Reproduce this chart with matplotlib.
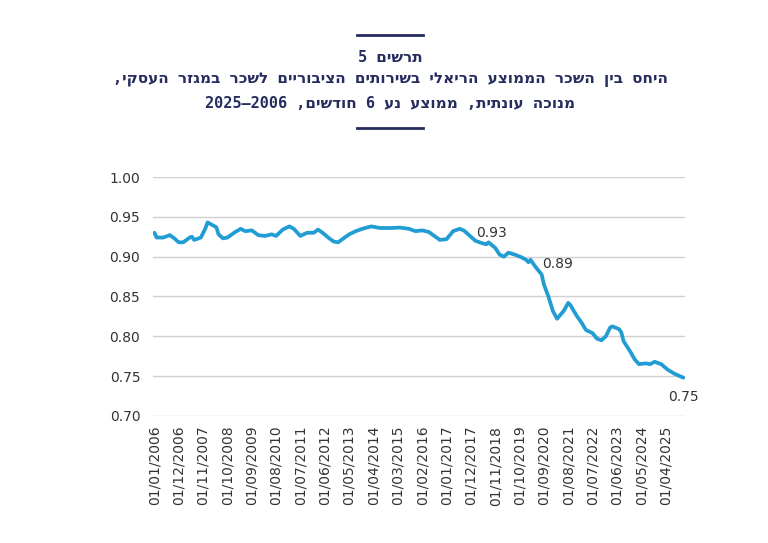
import re
import pandas as pd
import matplotlib
matplotlib.use('Agg')
import matplotlib.pyplot as plt
from matplotlib.lines import Line2D

months = ['2006-01', '2006-02', '2006-05', '2006-08', '2006-10', '2006-12', '2007-02', '2007-05',
          '2007-06', '2007-07', '2007-10', '2007-12', '2008-01', '2008-03', '2008-05', '2008-06',
          '2008-08', '2008-10', '2009-01', '2009-04', '2009-06', '2009-09', '2009-12', '2010-03',
          '2010-06', '2010-08', '2010-11', '2011-02', '2011-04', '2011-07', '2011-10', '2012-01',
          '2012-03', '2012-05', '2012-08', '2012-10', '2012-12', '2013-03', '2013-05', '2013-08',
          '2013-11', '2014-03', '2014-07', '2014-12', '2015-04', '2015-08', '2015-11', '2016-02',
          '2016-05', '2016-08', '2016-10', '2017-01', '2017-04', '2017-07', '2017-09', '2017-12',
          '2018-02', '2018-05', '2018-07', '2018-08', '2018-11', '2019-01', '2019-03', '2019-05',
          '2019-08', '2019-11', '2020-01', '2020-02', '2020-03', '2020-05', '2020-08', '2020-09',
          '2020-11', '2021-01', '2021-03', '2021-06', '2021-08', '2021-09', '2021-12', '2022-02',
          '2022-04', '2022-07', '2022-09', '2022-11', '2023-01', '2023-03', '2023-04', '2023-07',
          '2023-08', '2023-09', '2023-12', '2024-02', '2024-04', '2024-07', '2024-09', '2024-11',
          '2025-02', '2025-05', '2025-08', '2025-12']
ratio = [0.930, 0.924, 0.924, 0.927, 0.923, 0.918, 0.918, 0.924,
         0.925, 0.921, 0.924, 0.935, 0.943, 0.940, 0.937, 0.928,
         0.923, 0.924, 0.930, 0.935, 0.932, 0.933, 0.927, 0.926,
         0.928, 0.926, 0.934, 0.938, 0.935, 0.926, 0.930, 0.930,
         0.934, 0.930, 0.923, 0.919, 0.918, 0.924, 0.928, 0.932,
         0.935, 0.938, 0.936, 0.936, 0.9365, 0.935, 0.932, 0.933,
         0.931, 0.925, 0.921, 0.922, 0.932, 0.935, 0.9325, 0.925,
         0.920, 0.917, 0.9155, 0.918, 0.911, 0.9025, 0.900, 0.905,
         0.9025, 0.899, 0.896, 0.893, 0.896, 0.888, 0.8775, 0.865,
         0.850, 0.832, 0.822, 0.832, 0.842, 0.839, 0.825, 0.817,
         0.808, 0.804, 0.797, 0.795, 0.800, 0.811, 0.8125, 0.809,
         0.805, 0.794, 0.781, 0.771, 0.765, 0.766, 0.765, 0.768,
         0.765, 0.758, 0.753, 0.748]

# labelled points
label_months = ['2017-10', '2020-03', '2025-12']
label_values = [0.93, 0.896, 0.748]
label_texts = ['0.93', '0.89', '0.75']

tick_labels = ['01/01/2006', '01/12/2006', '01/11/2007', '01/10/2008', '01/09/2009', '01/08/2010',
               '01/07/2011', '01/06/2012', '01/05/2013', '01/04/2014', '01/03/2015', '01/02/2016',
               '01/01/2017', '01/12/2017', '01/11/2018', '01/10/2019', '01/09/2020', '01/08/2021',
               '01/07/2022', '01/06/2023', '01/05/2024', '01/04/2025']

title_lines = ['תרשים 5',
               'היחס בין השכר הממוצע הריאלי בשירותים הציבוריים לשכר במגזר העסקי,',
               'מנוכה עונתית, ממוצע נע 6 חודשים, 2006–2025']


def visual(s):
    # matplotlib has no bidi: flip the Hebrew, keep digit runs readable
    parts = re.findall(r'\d+|\D', s)
    return ''.join(reversed(parts))


navy = '#262c5e'
blue = '#219dd4'
grey = '#333333'

dates = pd.to_datetime(months, format='%Y-%m')
ticks = pd.to_datetime(tick_labels, format='%d/%m/%Y')

fig = plt.figure(figsize=(7.68, 5.43), dpi=100)
ax = fig.add_axes([0.199, 0.234, 0.693, 0.440])

ax.plot(dates, ratio, color=blue, lw=2.7, solid_capstyle='round', solid_joinstyle='round')

ax.set_ylim(0.70, 1.00)
ax.set_yticks([0.70, 0.75, 0.80, 0.85, 0.90, 0.95, 1.00])
ax.yaxis.set_major_formatter(plt.FormatStrFormatter('%.2f'))
ax.set_xlim(pd.Timestamp('2005-12-10'), pd.Timestamp('2025-12-25'))
ax.set_xticks(ticks)
ax.set_xticklabels(tick_labels, rotation=90)
ax.tick_params(axis='both', length=0, labelsize=10, colors=grey, pad=7)
ax.tick_params(axis='y', pad=9)
ax.grid(axis='y', color='#d0d0d0', lw=1)
ax.set_axisbelow(True)
for sp in ax.spines.values():
    sp.set_visible(False)

lab = pd.to_datetime(label_months, format='%Y-%m')
ax.annotate(label_texts[0], (lab[0], label_values[0]), xytext=(7, 0), textcoords='offset points',
            fontsize=10, color=grey, va='center')
ax.annotate(label_texts[1], (lab[1], label_values[1]), xytext=(8, -3), textcoords='offset points',
            fontsize=10, color=grey, va='center')
ax.annotate(label_texts[2], (lab[2], label_values[2]), xytext=(0, -14), textcoords='offset points',
            fontsize=10, color=grey, va='center', ha='center')

ys = [0.895, 0.853, 0.810]
for t, y in zip(title_lines, ys):
    fig.text(0.508, y, visual(t), ha='center', va='center', fontsize=11, fontweight='bold',
             color=navy, family=['DejaVu Sans Mono', 'DejaVu Sans'])

fig.add_artist(Line2D([0.465, 0.551], [0.935, 0.935], color=navy, lw=2))
fig.add_artist(Line2D([0.465, 0.551], [0.764, 0.764], color=navy, lw=2))

plt.savefig('out.png', dpi=100)
